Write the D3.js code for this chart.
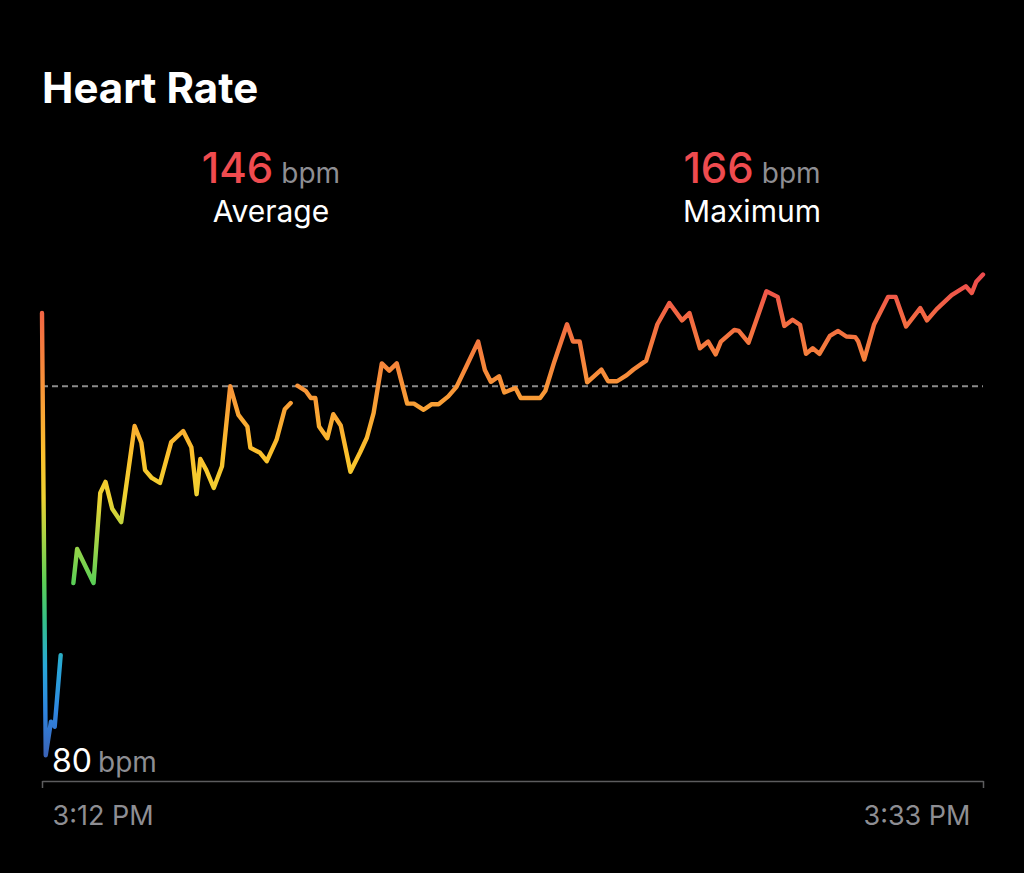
<!DOCTYPE html>
<html>
<head>
<meta charset="utf-8">
<script src="https://cdn.jsdelivr.net/npm/d3@7"></script>
<style>
  html, body { margin: 0; padding: 0; background: #000; }
  svg { display: block; font-family: Inter, "Noto Sans", sans-serif; }
</style>
</head>
<body>
<svg width="1024" height="873"></svg>
<script>
// heart rate samples, seconds after 3:12 PM, three runs with gaps in between
var seg1Sec = [0, 5, 12, 17, 25];
var seg1Bpm = [159.1, 80, 86.0, 85.1, 97.9];

var seg2Sec = [42, 47, 69, 78, 85, 94, 106, 124, 133, 138, 147, 158, 173, 189, 200, 207, 212, 220, 230, 241,
               252, 263, 275, 279, 292, 301, 314, 325, 333];
var seg2Bpm = [110.8, 116.9, 110.8, 126.9, 128.9, 124.1, 121.7, 138.9, 135.9, 131.0, 129.6, 128.7, 136.0, 138.0, 135.1, 126.7, 133.0, 131.0, 127.8, 131.7,
               146.0, 140.9, 138.8, 135.0, 134.1, 132.6, 136.4, 141.9, 143.0];

var seg3Sec = [342, 353, 360, 366, 371, 382, 390, 400, 413, 426, 435, 444, 455, 465, 475, 489, 498, 511, 522, 531,
               544, 555, 568, 584, 593, 601, 612, 619, 634, 641, 667, 674, 686, 703, 711, 720, 730, 749, 758, 770,
               783, 792, 809, 824, 840, 857, 867, 881, 892, 902, 909, 927, 933, 946, 970, 985, 994, 1005, 1015, 1023,
               1032, 1041, 1055, 1066, 1077, 1089, 1093, 1101, 1114, 1133, 1143, 1157, 1176, 1185, 1198, 1218, 1237, 1245, 1251, 1260];
var seg3Bpm = [146.1, 145.2, 143.9, 143.9, 138.8, 136.7, 141.0, 139.0, 130.7, 134.2, 136.8, 141.2, 150.1, 148.8, 150.1, 142.9, 142.9, 141.8, 142.8, 142.8,
               144.2, 145.9, 149.5, 154.0, 148.9, 146.8, 147.8, 144.9, 145.7, 143.9, 143.9, 145.2, 150.4, 157.1, 154.0, 154.0, 146.7, 149.0, 146.9, 146.9,
               148.0, 149.0, 150.6, 157.1, 160.9, 157.8, 159.1, 152.8, 154.0, 151.7, 154.0, 156.1, 155.9, 153.8, 163.0, 162.0, 156.8, 157.9, 157.0, 151.8,
               152.8, 151.8, 155.0, 155.9, 154.9, 154.8, 154.0, 150.8, 157.0, 162.0, 162.0, 156.7, 160.0, 157.8, 159.8, 162.3, 163.9, 162.7, 164.7, 166.0];

var avgBpm = 146;
var maxBpm = 166;
var minBpm = 80;

// colour ramp along the bpm axis
var rampBpm = [80, 88, 96, 104, 111, 119, 126, 134, 142, 150, 158, 166];
var rampColor = ["#3a64b8", "#2f86e0", "#28a8d8", "#34c08a", "#5ccf55", "#a8d444",
                 "#eed232", "#fcc02c", "#f9a235", "#f6853b", "#f36a42", "#ed4b4e"];

var startTime = new Date(2023, 5, 10, 15, 12, 0);
var endTime = new Date(2023, 5, 10, 15, 33, 0);

var svg = d3.select("svg");

var x = d3.scaleTime().domain([startTime, endTime]).range([42, 983]);
var y = d3.scaleLinear().domain([minBpm, maxBpm]).range([755.2, 274.5]);

function toPoints(secs, bpms) {
    return secs.map(function(s, i) {
        return {t: d3.timeSecond.offset(startTime, s), v: bpms[i]};
    });
}
var segments = [toPoints(seg1Sec, seg1Bpm), toPoints(seg2Sec, seg2Bpm), toPoints(seg3Sec, seg3Bpm)];

// gradient runs bottom (min bpm) to top (max bpm)
var grad = svg.append("defs").append("linearGradient")
    .attr("id", "hrGrad")
    .attr("gradientUnits", "userSpaceOnUse")
    .attr("x1", 0).attr("x2", 0)
    .attr("y1", y(minBpm)).attr("y2", y(maxBpm));
grad.selectAll("stop")
    .data(rampBpm)
    .enter()
    .append("stop")
    .attr("offset", function(d) { return (d - minBpm) / (maxBpm - minBpm); })
    .attr("stop-color", function(d, i) { return rampColor[i]; });

// title
svg.append("text")
    .attr("x", 42).attr("y", 103)
    .attr("fill", "#fff")
    .attr("font-size", 42)
    .attr("font-weight", 700)
    .text("Heart Rate");

// summary figures
function summary(cx, value, label) {
    var t = svg.append("text")
        .attr("x", cx).attr("y", 183)
        .attr("text-anchor", "middle");
    t.append("tspan")
        .attr("fill", "#ef4b4f")
        .attr("font-size", 42)
        .attr("font-weight", 500)
        .text(value);
    t.append("tspan")
        .attr("dx", 8)
        .attr("fill", "#8e8e93")
        .attr("font-size", 28)
        .text("bpm");
    svg.append("text")
        .attr("x", cx).attr("y", 222)
        .attr("text-anchor", "middle")
        .attr("fill", "#fff")
        .attr("font-size", 30)
        .text(label);
}
summary(271, avgBpm, "Average");
summary(752, maxBpm, "Maximum");

// average line
svg.append("line")
    .attr("x1", x.range()[0]).attr("x2", x.range()[1])
    .attr("y1", y(avgBpm)).attr("y2", y(avgBpm))
    .attr("stroke", "#8c8c8c")
    .attr("stroke-width", 2)
    .attr("stroke-dasharray", "6,4");

// x axis
var xAxis = d3.axisBottom(x)
    .tickValues([startTime, endTime])
    .tickFormat(d3.timeFormat("%-I:%M %p"))
    .tickSize(7)
    .tickPadding(18)
    .tickSizeOuter(0);

var gx = svg.append("g")
    .attr("transform", "translate(0,781)")
    .call(xAxis);
gx.select(".domain").attr("stroke", "#5c5c5e").attr("stroke-width", 1.5);
gx.selectAll(".tick line").attr("stroke", "#5c5c5e").attr("stroke-width", 1.5);
gx.selectAll(".tick text")
    .attr("fill", "#8e8e93")
    .attr("font-size", 27)
    .attr("font-family", "Inter, 'Noto Sans', sans-serif")
    .attr("text-anchor", function(d, i) { return i === 0 ? "start" : "end"; })
    .attr("dx", function(d, i) { return i === 0 ? 10 : -13; });

// min label
var minLabel = svg.append("text")
    .attr("x", 52).attr("y", y(minBpm) + 17);
minLabel.append("tspan")
    .attr("fill", "#fff")
    .attr("font-size", 32)
    .text(minBpm);
minLabel.append("tspan")
    .attr("dx", 6)
    .attr("fill", "#8e8e93")
    .attr("font-size", 28)
    .text("bpm");

// heart rate line
var line = d3.line()
    .x(function(d) { return x(d.t); })
    .y(function(d) { return y(d.v); });

svg.append("g")
    .selectAll("path")
    .data(segments)
    .enter()
    .append("path")
    .attr("d", line)
    .attr("fill", "none")
    .attr("stroke", "url(#hrGrad)")
    .attr("stroke-width", 4.4)
    .attr("stroke-linejoin", "round")
    .attr("stroke-linecap", "round");
</script>
</body>
</html>
